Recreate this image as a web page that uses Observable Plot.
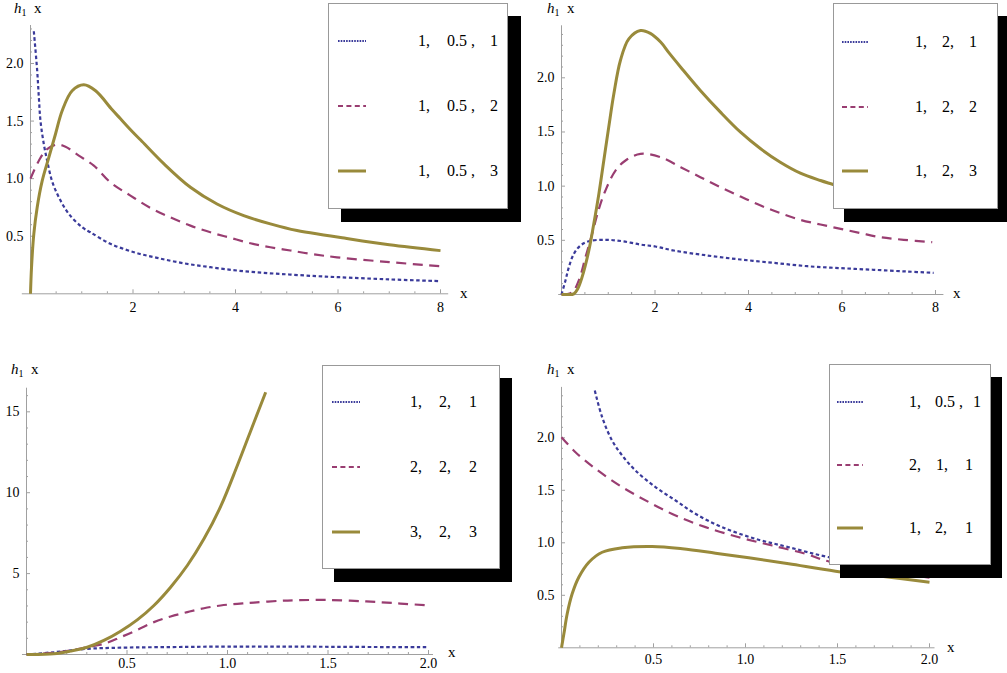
<!DOCTYPE html>
<html>
<head>
<meta charset="utf-8">
<script src="https://cdn.jsdelivr.net/npm/d3@7"></script>
<script src="https://cdn.jsdelivr.net/npm/@observablehq/plot@0.6"></script>
<style>
  body { margin: 0; background: #fff; }
  #root { position: relative; width: 1007px; height: 673px; overflow: hidden; background: #fff;
          font-family: "Liberation Serif", "Times New Roman", Tinos, Times, "Noto Serif", "DejaVu Serif", "Nimbus Roman", FreeSerif, serif; color: #000; }
  .panel { position: absolute; }
  .lbl { position: absolute; font-size: 15px; line-height: 15px; white-space: nowrap; }
  .lbl sub { font-size: 10px; vertical-align: -3px; line-height: 0; }
  .legend { position: absolute; background: #fff; border: 1px solid #999; box-sizing: border-box; }
  .lt { position: absolute; font-size: 16px; line-height: 18px; white-space: pre; }
  .ls { position: absolute; overflow: visible; }
</style>
</head>
<body>
<div id="root"></div>
<script>
// ---------------- data ----------------
// Panel 1 (top left): legend 1,0.5,1 / 1,0.5,2 / 1,0.5,3
const p1BlueX  = [0.065, 0.13, 0.163, 0.195, 0.26, 0.325, 0.42, 0.553, 0.748, 1.008, 1.17, 1.56, 2.02, 2.47, 2.99, 3.51, 4.03, 4.55, 5.07, 5.59, 6.02, 7, 8];
const p1BlueY  = [2.28, 1.94, 1.705, 1.50, 1.30, 1.156, 0.98, 0.838, 0.694, 0.578, 0.534, 0.434, 0.361, 0.312, 0.265, 0.231, 0.202, 0.182, 0.167, 0.153, 0.144, 0.125, 0.11];
const p1RedX   = [0, 0.163, 0.325, 0.52, 0.683, 0.943, 1.236, 1.56, 1.95, 2.34, 2.73, 3.12, 3.51, 3.90, 4.29, 4.68, 5.07, 5.46, 5.98, 7, 8];
const p1RedY   = [1.0, 1.156, 1.257, 1.295, 1.277, 1.2, 1.113, 0.968, 0.853, 0.746, 0.664, 0.592, 0.534, 0.486, 0.439, 0.404, 0.376, 0.347, 0.317, 0.275, 0.24];
const p1OliveX = [0, 0.02, 0.065, 0.13, 0.228, 0.358, 0.488, 0.618, 0.813, 1.04, 1.27, 1.59, 1.756, 1.984, 2.15, 2.6, 3.12, 3.64, 4.16, 4.68, 5.2, 5.72, 6.05, 7, 8];
const p1OliveY = [0, 0.23, 0.52, 0.75, 0.98, 1.185, 1.388, 1.59, 1.763, 1.815, 1.763, 1.60, 1.52, 1.41, 1.335, 1.13, 0.925, 0.78, 0.679, 0.607, 0.549, 0.511, 0.488, 0.425, 0.375];

// Panel 2 (top right): legend 1,2,1 / 1,2,2 / 1,2,3
const p2BlueX  = [0, 0.085, 0.157, 0.264, 0.406, 0.585, 0.94, 1.3, 1.69, 2.01, 2.40, 3.12, 3.83, 4.54, 5.26, 5.97, 6.68, 7.39, 7.96];
const p2BlueY  = [0, 0.129, 0.252, 0.375, 0.452, 0.492, 0.505, 0.492, 0.461, 0.443, 0.406, 0.36, 0.323, 0.292, 0.261, 0.243, 0.228, 0.212, 0.2];
const p2RedX   = [0, 0.228, 0.37, 0.513, 0.656, 0.8, 0.94, 1.155, 1.37, 1.69, 2.12, 2.55, 2.97, 3.4, 3.83, 4.26, 4.68, 5.11, 5.54, 5.97, 6.4, 6.82, 7.32, 7.93];
const p2RedY   = [0, 0.02, 0.129, 0.344, 0.56, 0.79, 0.96, 1.144, 1.237, 1.298, 1.267, 1.175, 1.083, 0.99, 0.904, 0.821, 0.751, 0.689, 0.646, 0.606, 0.566, 0.529, 0.505, 0.483];
const p2OliveX = [0, 0.13, 0.264, 0.35, 0.44, 0.585, 0.69, 0.8, 0.905, 1.01, 1.12, 1.26, 1.44, 1.69, 1.9, 2.12, 2.3, 2.55, 2.97, 3.4, 3.83, 4.26, 4.68, 5.11, 5.54, 5.81, 6.5, 7.2, 8];
const p2OliveY = [0, 0, 0.006, 0.055, 0.16, 0.406, 0.65, 0.93, 1.237, 1.544, 1.852, 2.16, 2.36, 2.437, 2.41, 2.33, 2.23, 2.098, 1.883, 1.683, 1.498, 1.345, 1.221, 1.12, 1.052, 1.015, 0.92, 0.84, 0.77];

// Panel 3 (bottom left): legend 1,2,1 / 2,2,2 / 3,2,3
const p3BlueX  = [0, 0.136, 0.302, 0.468, 0.8, 1.0, 1.3, 1.6, 2.0];
const p3BlueY  = [0, 0.14, 0.35, 0.42, 0.47, 0.49, 0.49, 0.47, 0.45];
const p3RedX   = [0, 0.136, 0.219, 0.302, 0.385, 0.468, 0.551, 0.634, 0.717, 0.80, 0.883, 0.966, 1.049, 1.132, 1.264, 1.36, 1.5, 1.69, 1.86, 2.0];
const p3RedY   = [0, 0.1, 0.25, 0.45, 0.66, 1.07, 1.52, 2.0, 2.35, 2.62, 2.86, 3.03, 3.13, 3.21, 3.32, 3.36, 3.37, 3.28, 3.15, 3.03];
const p3OliveX = [0, 0.136, 0.219, 0.302, 0.385, 0.468, 0.551, 0.634, 0.717, 0.80, 0.883, 0.966, 1.049, 1.132, 1.19];
const p3OliveY = [0, 0.04, 0.21, 0.45, 0.87, 1.44, 2.14, 3.03, 4.16, 5.50, 7.15, 9.15, 11.68, 14.36, 16.21];

// Panel 4 (bottom right): legend 1,0.5,1 / 2,1,1 / 1,2,1
const p4BlueX  = [0.181, 0.221, 0.275, 0.33, 0.402, 0.511, 0.62, 0.728, 0.873, 1.054, 1.235, 1.453, 1.75, 2.0];
const p4BlueY  = [2.45, 2.196, 1.974, 1.831, 1.689, 1.53, 1.403, 1.276, 1.149, 1.038, 0.958, 0.863, 0.78, 0.72];
const p4RedX   = [0, 0.076, 0.185, 0.33, 0.475, 0.62, 0.783, 0.964, 1.145, 1.326, 1.453, 1.7, 2.0];
const p4RedY   = [2.006, 1.863, 1.705, 1.53, 1.387, 1.26, 1.149, 1.053, 0.974, 0.895, 0.822, 0.75, 0.667];
const p4OliveX = [0, 0.013, 0.031, 0.058, 0.094, 0.149, 0.221, 0.33, 0.493, 0.656, 0.837, 1.018, 1.235, 1.489, 1.75, 2.0];
const p4OliveY = [0, 0.133, 0.324, 0.514, 0.672, 0.815, 0.91, 0.952, 0.965, 0.943, 0.901, 0.857, 0.80, 0.73, 0.68, 0.625];

// tick labels
const p12XTicks = [2, 4, 6, 8];
const p12YTicks = [0.5, 1.0, 1.5, 2.0];
const p34XTicks = [0.5, 1.0, 1.5, 2.0];
const p3YTicks  = [5, 10, 15];
const p4YTicks  = [0.5, 1.0, 1.5, 2.0];

// legend texts
const leg1 = [["1,", "0.5 ,", "1"], ["1,", "0.5 ,", "2"], ["1,", "0.5 ,", "3"]];
const leg2 = [["1,", "2,", "1"], ["1,", "2,", "2"], ["1,", "2,", "3"]];
const leg3 = [["1,", "2,", "1"], ["2,", "2,", "2"], ["3,", "2,", "3"]];
const leg4 = [["1,", "0.5 ,", "1"], ["2,", "1,", "1"], ["1,", "2,", "1"]];

// ---------------- styles ----------------
const FONT = "'Liberation Serif', 'Times New Roman', Tinos, Times, 'Noto Serif', 'DejaVu Serif', 'Nimbus Roman', FreeSerif, serif";
const STY = {
  blue:  {stroke: "#3a3a9a", strokeWidth: 2.2, strokeDasharray: "3.5,2.6", legDash: "1.6,1.1", legW: 2},
  red:   {stroke: "#993d71", strokeWidth: 2.2, strokeDasharray: "10,6.5",  legDash: "5,3.4",   legW: 2},
  olive: {stroke: "#998a3b", strokeWidth: 3,   strokeDasharray: null,      legDash: null,      legW: 3}
};
const AXIS = "#a0a0a0";

const toRows = (xs, ys) => xs.map((x, i) => ({x, y: ys[i]}));

const panels = [
  {left: 0, top: 0, width: 500, height: 336, mL: 30, mR: 60, mT: 25, mB: 42.7,
   xMax: 8, yMax: 2.33, xExt: [-0.16, 8.16], xMajor: p12XTicks, xStep: 0.5, yMajor: p12YTicks, yStep: 0.1,
   xFmt: d3.format("d"), yFmt: d3.format(".1f"), xPad: 8,
   series: [["blue", p1BlueX, p1BlueY], ["red", p1RedX, p1RedY], ["olive", p1OliveX, p1OliveY]],
   hLbl: [14, 1], xLbl: [460, 286],
   legend: {box: [328, 3, 180, 206], sh: [13, 13], sample: [338, 366], rows: [41, 106, 171],
            cols: [[418, 447, 490], [418, 447, 490], [418, 447, 490]], texts: leg1}},
  {left: 500, top: 0, width: 507, height: 336, mL: 61, mR: 72, mT: 25.3, mB: 42,
   xMax: 8, yMax: 2.48, xExt: [-0.06, 8.18], xMajor: p12XTicks, xStep: 0.5, yMajor: p12YTicks, yStep: 0.1,
   xFmt: d3.format("d"), yFmt: d3.format(".1f"), xPad: 8,
   series: [["blue", p2BlueX, p2BlueY], ["red", p2RedX, p2RedY], ["olive", p2OliveX, p2OliveY]],
   hLbl: [547, 1], xLbl: [953, 286],
   legend: {box: [833, 3, 165, 206], sh: [11, 13], sample: [842, 868], rows: [41.5, 106.5, 171],
            cols: [[915, 942, 969], [915, 942, 969], [915, 942, 969]], texts: leg2}},
  {left: 0, top: 340, width: 500, height: 333, mL: 26, mR: 72, mT: 47.7, mB: 19,
   xMax: 2, yMax: 16.46, xExt: [-0.02, 2.025], xMajor: p34XTicks, xStep: 0.1, yMajor: p3YTicks, yStep: 1,
   xFmt: d3.format(".1f"), yFmt: d3.format("d"), xPad: 4,
   series: [["blue", p3BlueX, p3BlueY], ["red", p3RedX, p3RedY], ["olive", p3OliveX, p3OliveY]],
   hLbl: [11, 362], xLbl: [448, 645],
   legend: {box: [322, 365, 178, 204], sh: [12, 13], sample: [332, 360], rows: [402, 467, 532],
            cols: [[410, 439, 469], [410, 439, 469], [410, 439, 469]], texts: leg3}},
  {left: 500, top: 340, width: 507, height: 333, mL: 61, mR: 78, mT: 46.9, mB: 25.7,
   xMax: 2, yMax: 2.48, xExt: [-0.015, 2.03], xMajor: p34XTicks, xStep: 0.1, yMajor: p4YTicks, yStep: 0.1,
   xFmt: d3.format(".1f"), yFmt: d3.format(".1f"), xPad: 6,
   series: [["blue", p4BlueX, p4BlueY], ["red", p4RedX, p4RedY], ["olive", p4OliveX, p4OliveY]],
   hLbl: [547, 362], xLbl: [947, 640],
   legend: {box: [829, 364, 162, 201], sh: [11, 13], sample: [837, 863], rows: [402, 465, 528],
            cols: [[909, 935, 973], [909, 936, 965], [909, 935, 965]], texts: leg4}}
];

const root = document.getElementById("root");

function minorTicks(max, step, major) {
  const n = Math.floor(max / step + 1e-6);
  const out = [];
  for (let i = 1; i <= n; i++) {
    const v = +(i * step).toFixed(4);
    if (!major.some(m => Math.abs(m - v) < 1e-6)) out.push(v);
  }
  return out;
}

// draw plots
for (const p of panels) {
  const kx = (p.width - p.mL - p.mR) / p.xMax;
  const ky = (p.height - p.mT - p.mB) / p.yMax;
  const xMinor = minorTicks(p.xExt[1], p.xStep, p.xMajor);
  const yMinor = minorTicks(p.yMax, p.yStep, p.yMajor);
  const marks = [
    Plot.ruleY([0], {x1: p.xExt[0], x2: p.xExt[1], stroke: AXIS, strokeWidth: 1}),
    Plot.ruleX([0], {y1: 0, y2: p.yMax, stroke: AXIS, strokeWidth: 1}),
    Plot.ruleX(p.xMajor, {x: d => d, y1: 0, y2: 4 / ky, stroke: AXIS}),
    Plot.ruleX(xMinor, {x: d => d, y1: 0, y2: 2 / ky, stroke: AXIS}),
    Plot.ruleY(p.yMajor, {y: d => d, x1: 0, x2: 4 / kx, stroke: AXIS}),
    Plot.ruleY(yMinor, {y: d => d, x1: 0, x2: 2 / kx, stroke: AXIS}),
    Plot.axisX({ticks: p.xMajor, tickSize: 0, tickPadding: p.xPad, tickFormat: p.xFmt, label: null, fontSize: 14, fontFamily: FONT}),
    Plot.axisY({ticks: p.yMajor, tickSize: 0, tickPadding: 7, tickFormat: p.yFmt, label: null, fontSize: 14, fontFamily: FONT})
  ];
  for (const [key, xs, ys] of p.series) {
    const s = STY[key];
    marks.push(Plot.line(toRows(xs, ys), {
      x: "x", y: "y", stroke: s.stroke, strokeWidth: s.strokeWidth,
      strokeDasharray: s.strokeDasharray || undefined, curve: "catmull-rom", strokeLinecap: "butt"
    }));
  }
  const svg = Plot.plot({
    width: p.width, height: p.height,
    marginLeft: p.mL, marginRight: p.mR, marginTop: p.mT, marginBottom: p.mB,
    x: {domain: [0, p.xMax], label: null},
    y: {domain: [0, p.yMax], label: null},
    style: {background: "transparent", fontFamily: FONT, fontSize: "14px", overflow: "visible", color: "#000"},
    marks
  });
  const wrap = document.createElement("div");
  wrap.className = "panel";
  wrap.style.left = p.left + "px";
  wrap.style.top = p.top + "px";
  wrap.appendChild(svg);
  root.appendChild(wrap);

  const h = document.createElement("div");
  h.className = "lbl";
  h.style.left = p.hLbl[0] + "px"; h.style.top = p.hLbl[1] + "px";
  h.innerHTML = "<i>h</i><sub>1</sub>&nbsp;&nbsp;x";
  root.appendChild(h);
  const xl = document.createElement("div");
  xl.className = "lbl";
  xl.style.left = p.xLbl[0] + "px"; xl.style.top = p.xLbl[1] + "px";
  xl.textContent = "x";
  root.appendChild(xl);
}

// legends (drawn after all panels)
const NS = "http://www.w3.org/2000/svg";
for (const p of panels) {
  const L = p.legend;
  const [bx, by, bw, bh] = L.box;
  const sh = document.createElement("div");
  sh.className = "legend";
  sh.style.cssText = `left:${bx + L.sh[0]}px;top:${by + L.sh[1]}px;width:${bw}px;height:${bh}px;background:#000;border-color:#000;`;
  root.appendChild(sh);
  const box = document.createElement("div");
  box.className = "legend";
  box.style.cssText = `left:${bx}px;top:${by}px;width:${bw}px;height:${bh}px;`;
  root.appendChild(box);

  p.series.forEach(([key], i) => {
    const s = STY[key];
    const y = L.rows[i];
    const svg = document.createElementNS(NS, "svg");
    svg.setAttribute("class", "ls");
    svg.setAttribute("width", L.sample[1] - L.sample[0]);
    svg.setAttribute("height", 8);
    svg.style.left = L.sample[0] + "px";
    svg.style.top = (y - 4) + "px";
    const ln = document.createElementNS(NS, "line");
    ln.setAttribute("x1", 0); ln.setAttribute("x2", L.sample[1] - L.sample[0]);
    ln.setAttribute("y1", 4); ln.setAttribute("y2", 4);
    ln.setAttribute("stroke", s.stroke);
    ln.setAttribute("stroke-width", s.legW);
    if (s.legDash) ln.setAttribute("stroke-dasharray", s.legDash);
    svg.appendChild(ln);
    root.appendChild(svg);
    L.texts[i].forEach((t, j) => {
      const sp = document.createElement("div");
      sp.className = "lt";
      sp.style.left = L.cols[i][j] + "px";
      sp.style.top = (y - 9) + "px";
      sp.textContent = t;
      root.appendChild(sp);
    });
  });
}
</script>
</body>
</html>
